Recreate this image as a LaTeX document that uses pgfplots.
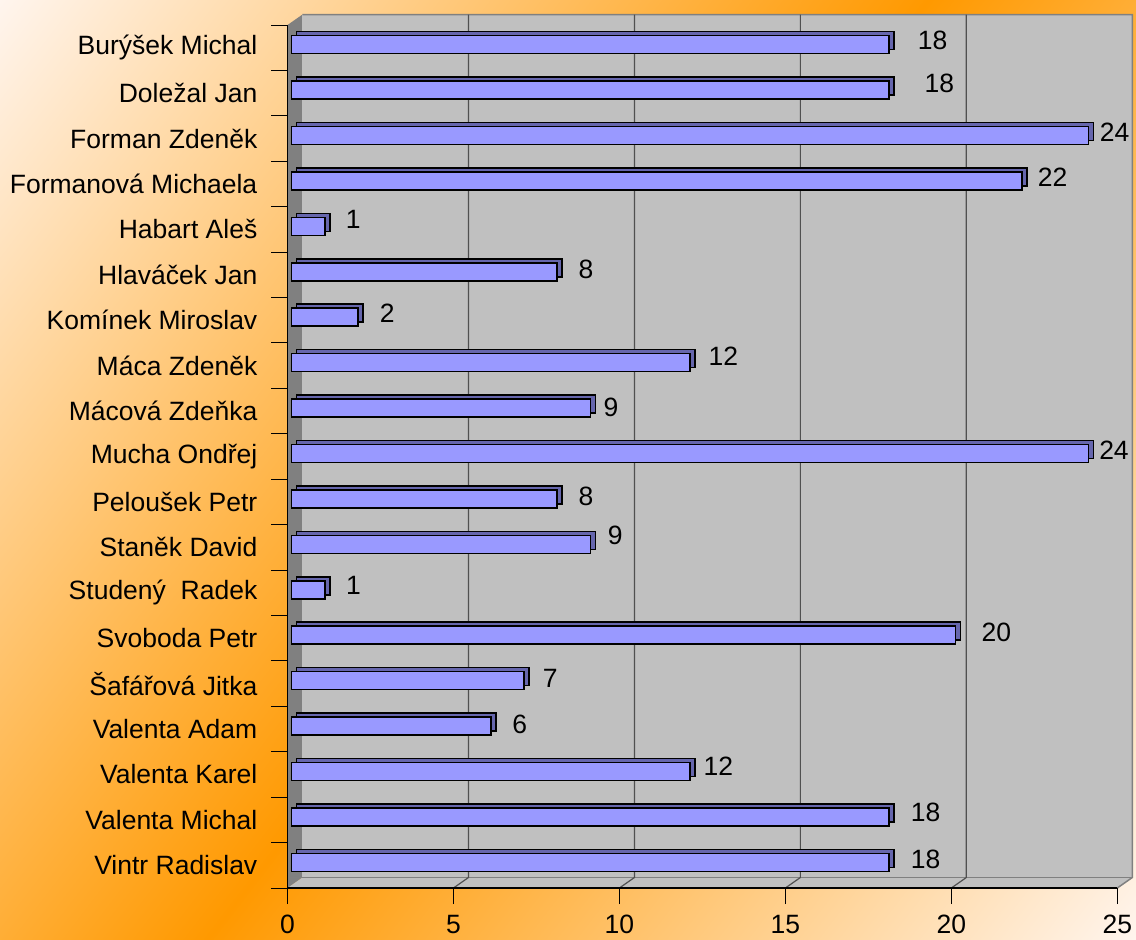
\documentclass[border=0pt]{standalone}
\usepackage{fontspec}
\setmainfont{Liberation Sans}
\usepackage{pgfplots}
\pgfplotsset{compat=1.18}
\usepackage{pgfplotstable}
\definecolor{bgl}{HTML}{FFF5EE}
\definecolor{bgo}{HTML}{FF9900}
\definecolor{wall}{HTML}{C0C0C0}
\definecolor{wallside}{HTML}{808080}
\definecolor{gridc}{HTML}{505050}
\definecolor{barf}{HTML}{9999FF}
\definecolor{bars}{HTML}{6666AD}

\pgfplotstableread{
y  v  dx   dy
18 18 28.0 4.0
17 18 34.7 6.8
16 24 10.9 3.8
15 22 15.3 4.0
14 1  20.2 7.1
13 8  20.6 2.8
12 2  21.1 3.9
11 12 17.8 6.0
10 9  12.5 1.0
9  24 10.2 2.8
8  8  20.6 2.2
7  9  16.8 9.3
6  1  20.5 4.7
5  20 25.4 2.5
4  7  18.0 2.3
3  6  20.8 2.0
2  12 12.8 5.4
1  18 21.0 4.9
0  18 21.0 3.3
}\data

\begin{document}
\begin{tikzpicture}
\begin{scope}
\clip (0pt,0pt) rectangle (1136pt,-940pt);
\shade[top color=bgl, bottom color=bgl, middle color=bgo, shading angle=52.5]
  (-169pt,-1207pt) rectangle (1305pt,267pt);
\end{scope}
\begin{axis}[
  at={(287.5pt,-888pt)}, anchor=south west,
  scale only axis, width=829.8pt, height=863pt,
  xmin=0, xmax=25, ymin=-0.5, ymax=18.5,
  clip=false,
  axis on top,
  axis x line*=bottom, axis y line*=left,
  axis line style={black, line width=1.2pt},
  xtick={0,5,...,25},
  ytick={-0.5,0.5,...,18.5},
  yticklabels={Vintr Radislav, Valenta Michal, Valenta Karel, Valenta Adam, Šafářová Jitka, Svoboda Petr, Studený~~Radek, Staněk David, Peloušek Petr, Mucha Ondřej, Mácová Zdeňka, Máca Zdeněk, Komínek Miroslav, Hlaváček Jan, Habart Aleš, Formanová Michaela, Forman Zdeněk, Doležal Jan, Burýšek Michal, {}},
  tick align=outside,
  major tick length=16pt,
  tick style={black, line width=1pt},
  ticklabel style={font=\fontsize{26.5}{30}\selectfont, inner sep=0pt, text=black},
  /pgf/number format/assume math mode=true,
  yticklabel style={xshift=-14pt, yshift=22.71pt},
  xticklabel style={yshift=-11pt},
]
% walls
\fill[wallside] (axis cs:0,-0.5) -- (axis cs:0,18.5) -- ([xshift=15pt,yshift=10.5pt]axis cs:0,18.5) -- ([xshift=15pt,yshift=10.5pt]axis cs:0,-0.5) -- cycle;
\fill[wall] ([xshift=15pt,yshift=10.5pt]axis cs:0,-0.5) rectangle ([xshift=15pt,yshift=10.5pt]axis cs:25,18.5);
\fill[wall] (axis cs:0,-0.5) -- (axis cs:25,-0.5) -- ([xshift=15pt,yshift=10.5pt]axis cs:25,-0.5) -- ([xshift=15pt,yshift=10.5pt]axis cs:0,-0.5) -- cycle;
\draw[wallside, line width=1.5pt] ([xshift=15pt,yshift=10.5pt]axis cs:0,18.5) -- ([xshift=15pt,yshift=10.5pt]axis cs:25,18.5) -- ([xshift=15pt,yshift=10.5pt]axis cs:25,-0.5) -- (axis cs:25,-0.5);
\draw[wallside, line width=1.5pt] ([xshift=15pt,yshift=10.5pt]axis cs:0,-0.5) -- ([xshift=15pt,yshift=10.5pt]axis cs:25,-0.5);
\pgfplotsinvokeforeach{5,10,15,20}{
  \draw[gridc, line width=1.2pt] (axis cs:#1,-0.5) -- ([xshift=15pt,yshift=10.5pt]axis cs:#1,-0.5) -- ([xshift=15pt,yshift=10.5pt]axis cs:#1,18.5);
}
% 3D depth of bars
\addplot[xbar, bar shift=0pt, bar width=18pt, fill=bars, draw=black, line width=1.5pt, xshift=9.2pt, yshift=7pt]
  table[x=v, y=y] {\data};
% front faces
\addplot[xbar, bar shift=0pt, bar width=18pt, fill=barf, draw=black, line width=1.5pt, xshift=4.2pt, yshift=3pt,
  point meta=x,
  visualization depends on={\thisrow{dx} \as \labdx},
  visualization depends on={\thisrow{dy} \as \labdy},
  nodes near coords,
  nodes near coords style={anchor=west, inner sep=0pt, text=black, font=\fontsize{26.5}{30}\selectfont, xshift=\labdx pt, yshift=\labdy pt}]
  table[x=v, y=y] {\data};
\end{axis}
\pgfresetboundingbox
\path (0pt,0pt) rectangle (1136pt,-940pt);
\end{tikzpicture}
\end{document}
